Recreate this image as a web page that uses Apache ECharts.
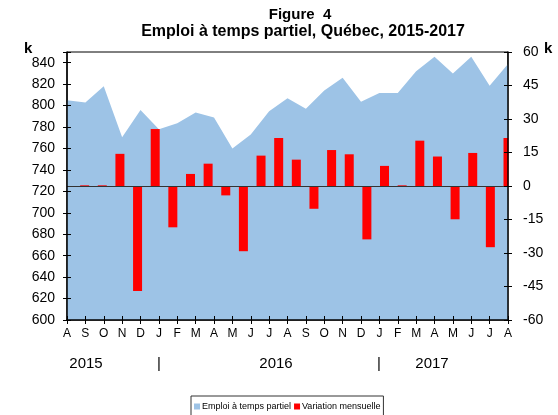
<!DOCTYPE html>
<html><head><meta charset="utf-8">
<script src="https://cdn.jsdelivr.net/npm/echarts@6/dist/echarts.min.js"></script>
<style>html,body{margin:0;padding:0;background:#fff}#c{width:558px;height:415px}</style>
</head><body><div id="c"></div>
<script>
var months = ['A','S','O','N','D','J','F','M','A','M','J','J','A','S','O','N','D','J','F','M','A','M','J','J','A'];
var emploi = [805, 803, 818, 770.5, 796, 778, 783.5, 793.5, 789, 760, 773, 794.7, 806.8, 797, 814, 826, 803.7, 811.8, 811.8, 832, 845.6, 830, 845.6, 818.6, 838.8];
var variation = [0, 0.3, 0.3, 14.4, -47, 25.5, -18.5, 5.4, 10, -4.2, -29.2, 13.6, 21.5, 11.8, -10.2, 16.1, 14.2, -23.9, 9, 0.3, 20.3, 13.2, -14.9, 14.8, -27.4, 21.5];
var barSlots = variation.map(function(_, i){ return 's' + i; });
var leftTicks = {min: 600, max: 850, interval: 20};
var rightTicks = {min: -60, max: 60, interval: 15};
var years = [{t:'2015', x:86}, {t:'|', x:159}, {t:'2016', x:276}, {t:'|', x:379}, {t:'2017', x:432}];

var FONT = '"Liberation Sans", Arial, sans-serif';
var GRID = {left:67, right:50, top:52, bottom:95};
var W = 558, H = 415;
var chart = echarts.init(document.getElementById('c'), null, {renderer:'canvas'});
var graphics = [
  {type:'text', x:300, y:7, style:{text:'Figure  4', font:'bold 15px ' + FONT, fill:'#000', align:'center'}},
  {type:'text', x:303, y:24, style:{text:'Emploi à temps partiel, Québec, 2015-2017', font:'bold 16px ' + FONT, fill:'#000', align:'center'}},
  {type:'text', x:24, y:41, style:{text:'k', font:'bold 15px ' + FONT, fill:'#000'}},
  {type:'text', x:544, y:41, style:{text:'k', font:'bold 15px ' + FONT, fill:'#000'}},
  // mask: bars are clipped at the right edge of the plot in the reference
  {type:'rect', z:5, silent:true, shape:{x:W - GRID.right + 0.5, y:GRID.top - 2, width:8, height:H - GRID.top - GRID.bottom + 4}, style:{fill:'#fff'}}
];
years.forEach(function(y){
  graphics.push({type:'text', x:y.x, y:356, style:{text:y.t, font:'15px ' + FONT, fill:'#000', align:'center'}});
});

function tickOnly(extra){
  return Object.assign({axisLine:{show:false, onZero:false}, axisLabel:{show:false}, splitLine:{show:false}, z:10,
    axisTick:{show:true, inside:true, length:4, lineStyle:{color:'#000'}}}, extra);
}

chart.setOption({
  animation:false,
  textStyle:{fontFamily:FONT},
  graphic: graphics,
  legend:{
    left:191, top:396, icon:'rect', itemWidth:6, itemHeight:6, itemGap:3,
    padding:[6,3,12,3], borderColor:'#333', borderWidth:1,
    textStyle:{fontSize:9, color:'#000', padding:[0,0,0,-3]},
    data:['Emploi à temps partiel','Variation mensuelle']
  },
  grid:{left:GRID.left, right:GRID.right, top:GRID.top, bottom:GRID.bottom, show:true, borderColor:'#000', borderWidth:1, backgroundColor:'transparent'},
  xAxis:[
    {type:'category', data:months, boundaryGap:false, z:10,
     axisLine:{onZero:false, lineStyle:{color:'#000', width:1.5}},
     axisTick:{show:true, length:4, lineStyle:{color:'#000'}},
     axisLabel:{color:'#000', fontSize:12, margin:8, interval:0}},
    {type:'category', data:barSlots, boundaryGap:false, show:false},
    tickOnly({type:'category', data:months, boundaryGap:false, position:'bottom'})
  ],
  yAxis:[
    {type:'value', min:leftTicks.min, max:leftTicks.max, interval:leftTicks.interval, position:'left', z:10,
     axisLine:{show:true, lineStyle:{color:'#000', width:1.5}},
     axisTick:{show:true, length:4, lineStyle:{color:'#000'}},
     splitLine:{show:false},
     axisLabel:{color:'#000', fontSize:14, margin:12, formatter:function(v){ return v === 850 ? '' : v; }}},
    {type:'value', min:rightTicks.min, max:rightTicks.max, interval:rightTicks.interval, position:'right', z:10,
     axisLine:{show:true, lineStyle:{color:'#000', width:1.5}},
     axisTick:{show:true, length:4, lineStyle:{color:'#000'}},
     splitLine:{show:false},
     axisLabel:{color:'#000', fontSize:14, margin:15}},
    tickOnly({type:'value', min:leftTicks.min, max:leftTicks.max, interval:leftTicks.interval, position:'left'}),
    tickOnly({type:'value', min:rightTicks.min, max:rightTicks.max, interval:rightTicks.interval, position:'right'})
  ],
  series:[
    {name:'Emploi à temps partiel', type:'line', xAxisIndex:0, yAxisIndex:0, data:emploi,
     symbol:'none', lineStyle:{width:0, color:'#9DC3E6'}, itemStyle:{color:'#9DC3E6'},
     areaStyle:{color:'#9DC3E6', opacity:1, origin:'start'}, z:1},
    {name:'Variation mensuelle', type:'bar', xAxisIndex:1, yAxisIndex:1, data:variation,
     barWidth:9, clip:true, itemStyle:{color:'#FF0000'}, z:3,
     markLine:{silent:true, symbol:'none', label:{show:false},
       lineStyle:{color:'#333', width:1.2, type:'solid'}, data:[{yAxis:0}]}}
  ]
});
</script></body></html>
